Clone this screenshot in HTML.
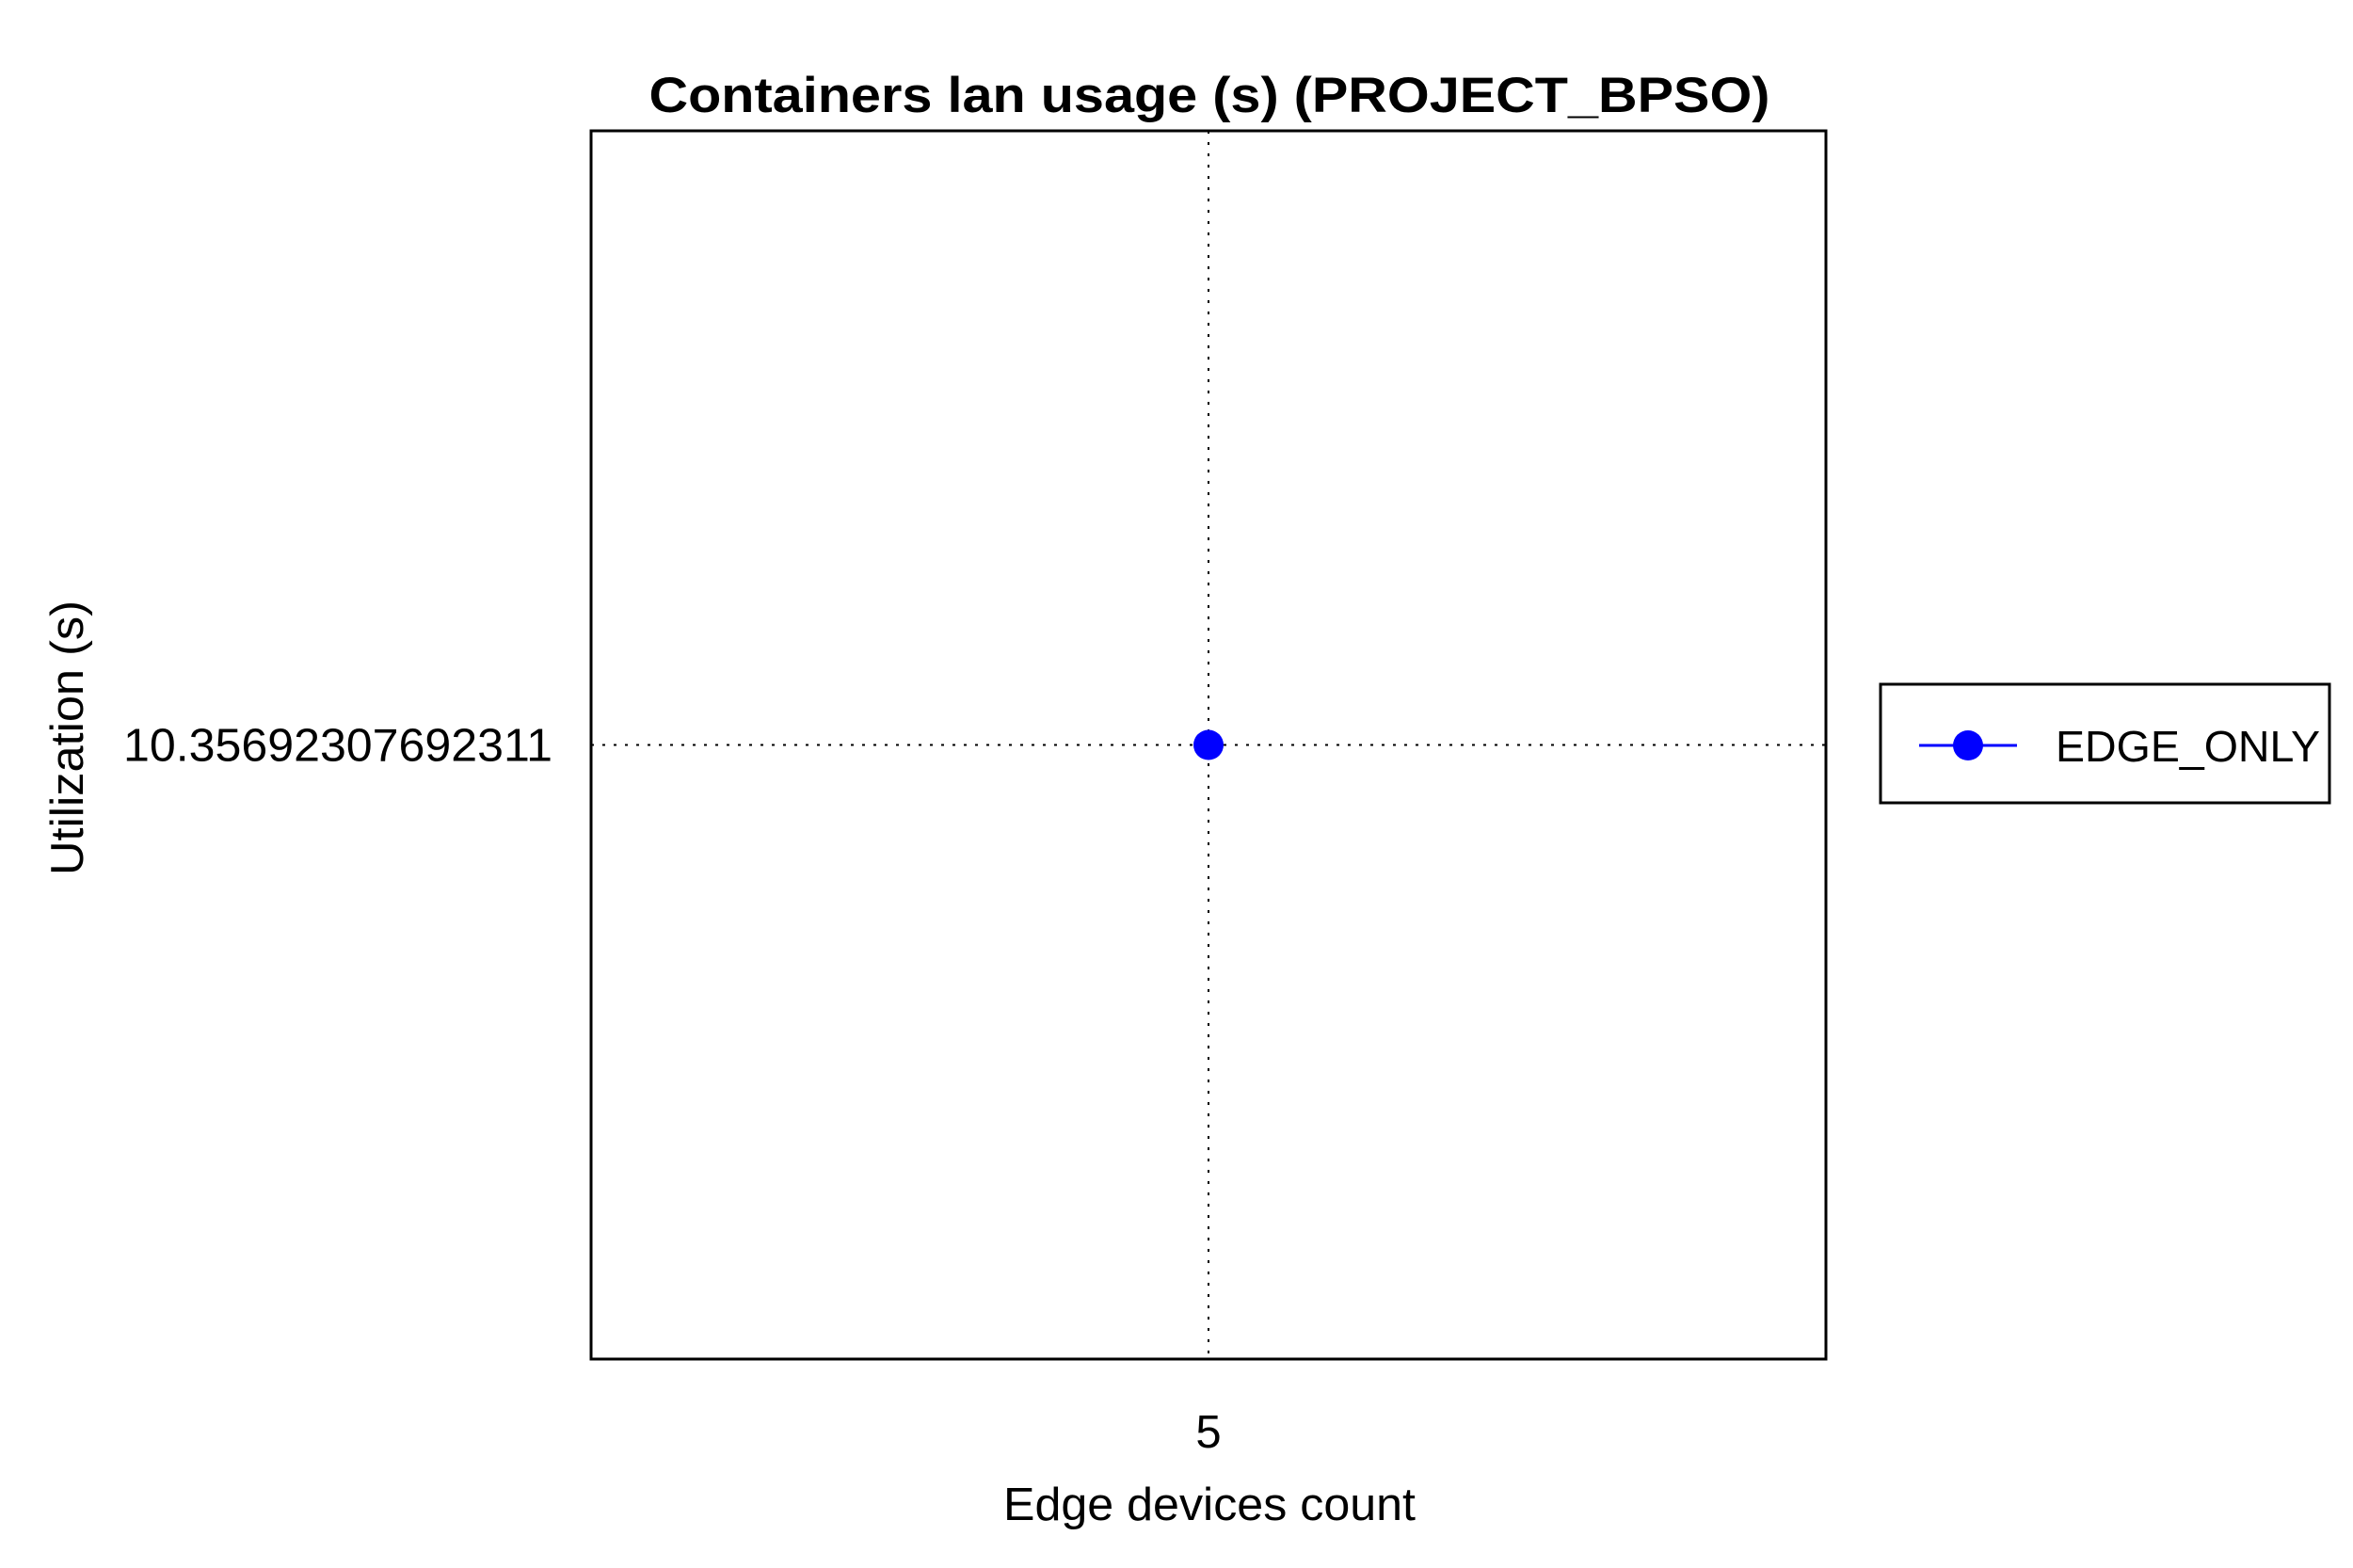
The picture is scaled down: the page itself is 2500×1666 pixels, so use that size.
<!DOCTYPE html>
<html>
<head>
<meta charset="utf-8">
<style>
  html, body { margin: 0; padding: 0; background: #fff; }
  svg { display: block; font-family: "Liberation Sans", Arial, sans-serif; }
</style>
</head>
<body>
<svg id="chart" width="2500" height="1666" viewBox="0 0 2500 1666" xmlns="http://www.w3.org/2000/svg">
  <rect x="0" y="0" width="2500" height="1666" fill="#fff"/>
  <text x="1285" y="119" text-anchor="middle" font-size="53" font-weight="bold" textLength="1191" lengthAdjust="spacingAndGlyphs">Containers lan usage (s) (PROJECT_BPSO)</text>
  <g id="grid"></g>
  <g id="marks"></g>
  <rect x="628" y="139" width="1312" height="1305" fill="none" stroke="#000" stroke-width="3"/>
  <g id="ticks"></g>
  <text x="1285" y="1615" text-anchor="middle" font-size="49" textLength="438" lengthAdjust="spacingAndGlyphs">Edge devices count</text>
  <text transform="translate(88,784) rotate(-90)" text-anchor="middle" font-size="49" textLength="292" lengthAdjust="spacingAndGlyphs">Utilization (s)</text>
  <g>
    <rect x="1998" y="727" width="477" height="126" fill="#fff" stroke="#000" stroke-width="3"/>
    <line x1="2039" y1="792" x2="2143" y2="792" stroke="#0000ff" stroke-width="3"/>
    <circle cx="2091" cy="792" r="16" fill="#0000ff"/>
    <text x="2184" y="809" font-size="46" textLength="281" lengthAdjust="spacingAndGlyphs">EDGE_ONLY</text>
  </g>
</svg>
<script>
const categories = [5];
const seriesValues = [10.35692307692311];
const xTickLabels = ["5"];
const yTickLabels = ["10.35692307692311"];
const yTickValues = [10.35692307692311];

const NS = "http://www.w3.org/2000/svg";
const L = 628, R = 1940, T = 139, B = 1444;
function xScale(i) { return L + (R - L) * (i + 0.5) / categories.length; }
function yScale(v) {
  const lo = Math.min(...seriesValues) - 1, hi = Math.max(...seriesValues) + 1;
  return B - (v - lo) / (hi - lo) * (B - T);
}
const grid = document.getElementById('grid');
const marks = document.getElementById('marks');
const ticks = document.getElementById('ticks');

categories.forEach((c, i) => {
  const x = xScale(i);
  const g = document.createElementNS(NS, 'line');
  g.setAttribute('x1', x); g.setAttribute('x2', x);
  g.setAttribute('y1', T); g.setAttribute('y2', B);
  g.setAttribute('stroke', '#000'); g.setAttribute('stroke-width', '2');
  g.setAttribute('stroke-dasharray', '3,9');
  
  
  grid.appendChild(g);
  const t = document.createElementNS(NS, 'text');
  t.setAttribute('x', x); t.setAttribute('y', 1538);
  t.setAttribute('text-anchor', 'middle'); t.setAttribute('font-size', '49');
  t.textContent = xTickLabels[i];
  
  
  ticks.appendChild(t);
});

yTickValues.forEach((v, i) => {
  const y = yScale(v);
  const g = document.createElementNS(NS, 'line');
  g.setAttribute('x1', L); g.setAttribute('x2', R);
  g.setAttribute('y1', y); g.setAttribute('y2', y);
  g.setAttribute('stroke', '#000'); g.setAttribute('stroke-width', '2');
  g.setAttribute('stroke-dasharray', '3,9');
  
  
  grid.appendChild(g);
  const t = document.createElementNS(NS, 'text');
  t.setAttribute('x', 587); t.setAttribute('y', y + 17);
  t.setAttribute('text-anchor', 'end'); t.setAttribute('font-size', '49');
  t.setAttribute('textLength', '456'); t.setAttribute('lengthAdjust', 'spacingAndGlyphs');
  t.textContent = yTickLabels[i];
  
  
  ticks.appendChild(t);
});

let pts = [];
seriesValues.forEach((v, i) => {
  const cx = xScale(i), cy = yScale(v);
  pts.push(cx + ',' + cy);
  const c = document.createElementNS(NS, 'circle');
  c.setAttribute('cx', cx); c.setAttribute('cy', cy); c.setAttribute('r', 16);
  c.setAttribute('fill', '#0000ff');
  
  
  marks.appendChild(c);
});
const pl = document.createElementNS(NS, 'polyline');
pl.setAttribute('points', pts.join(' '));
pl.setAttribute('fill', 'none'); pl.setAttribute('stroke', '#0000ff'); pl.setAttribute('stroke-width', '3');


marks.insertBefore(pl, marks.firstChild);
</script>
</body>
</html>
